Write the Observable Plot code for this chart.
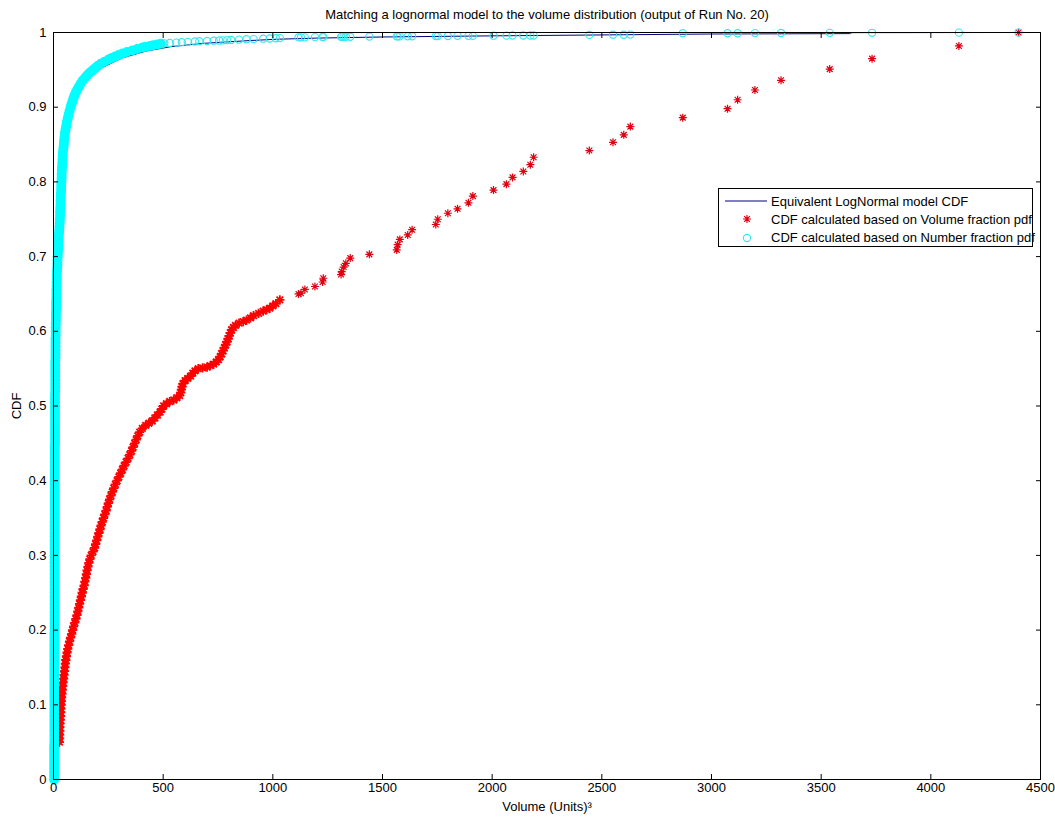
<!DOCTYPE html>
<html>
<head>
<meta charset="utf-8">
<script src="https://cdn.jsdelivr.net/npm/d3@7"></script>
<script src="https://cdn.jsdelivr.net/npm/@observablehq/plot@0.6"></script>
<style>
  html, body { margin: 0; padding: 0; background: #fff; }
  #wrap { position: relative; width: 1055px; height: 818px; }
  #legend { position: absolute; left: 718px; top: 188px; width: 315px; height: 59px;
            border: 1px solid #000; background: #fff; box-sizing: border-box;
            font-family: "Liberation Sans", Arial, sans-serif; font-size: 13px; color: #000; padding-top: 3px; }
  .row { display: flex; align-items: center; height: 18.3px; }
  .row svg { flex: none; }
  .row span { margin-left: 4px; white-space: nowrap; }
</style>
</head>
<body>
<div id="wrap"></div>
<script>
const title = "Matching a lognormal model to the volume distribution (output of Run No. 20)";
const xLabel = "Volume (Units)³";
const yLabel = "CDF";
const xTicks = [0, 500, 1000, 1500, 2000, 2500, 3000, 3500, 4000, 4500];
const yTicks = [0, 0.1, 0.2, 0.3, 0.4, 0.5, 0.6, 0.7, 0.8, 0.9, 1];
const yTickLabels = ["0", "0.1", "0.2", "0.3", "0.4", "0.5", "0.6", "0.7", "0.8", "0.9", "1"];
const legendLabels = [
  "Equivalent LogNormal model CDF",
  "CDF calculated based on Volume fraction pdf",
  "CDF calculated based on Number fraction pdf"
];

// Equivalent lognormal model CDF [volume, cdf]
const modelCdf = [
  [0,0],[3,0.3],[6,0.55],[10,0.63],[17,0.68],[29,0.745],[43,0.833],[62,0.874],[78,0.892],
  [116,0.92],[146,0.934],[215,0.952],[314,0.966],[420,0.975],[534,0.981],[685,0.9855],
  [900,0.9893],[1021,0.991],[1200,0.9925],[1500,0.994],[2000,0.9955],[2600,0.997],
  [3000,0.998],[3630,0.9985],[3640,0.9998],[4400,1.0]
];

// Volume-fraction CDF, dense part [volume, cdf]
const volumeCdfDense = [
  [27,0.05],[28,0.055],[28,0.06],[29,0.065],
  [29,0.07],[30,0.075],[31,0.08],[32,0.085],[33,0.09],[34,0.095],[35,0.10],[36,0.105],[37,0.11],[39,0.115],
  [40,0.12],[42,0.125],[44,0.13],[46,0.135],[48,0.14],[50,0.145],[52,0.15],[54,0.155],[56,0.16],[59,0.165],
  [62,0.17],[65,0.175],[69,0.18],[73,0.185],[78,0.19],[83,0.195],[87,0.20],[92,0.205],[97,0.21],[102,0.215],
  [107,0.22],[111,0.225],[115,0.23],[119,0.235],[123,0.24],[127,0.245],[131,0.25],[135,0.255],[140,0.26],[143,0.265],
  [147,0.27],[150,0.275],[153,0.28],[157,0.285],[161,0.29],[166,0.295],[172,0.30],[180,0.305],[187,0.31],[192,0.315],
  [197,0.32],[202,0.325],[207,0.33],[212,0.335],[217,0.34],[222,0.345],[228,0.35],[234,0.355],[240,0.36],[245,0.365],
  [250,0.37],[256,0.375],[262,0.38],[268,0.385],[275,0.39],[282,0.395],[290,0.40],[298,0.405],[306,0.41],[314,0.415],
  [322,0.42],[331,0.425],[340,0.43],[348,0.435],[356,0.44],[363,0.445],[370,0.45],[377,0.455],[384,0.46],[393,0.465],
  [405,0.47],[420,0.474],[435,0.477],[450,0.48],[462,0.484],[474,0.488],[486,0.492],[494,0.496],[502,0.50],[515,0.503],
  [530,0.506],[548,0.508],[562,0.511],[575,0.514],[580,0.518],[583,0.522],[586,0.526],[590,0.53],[600,0.534],[612,0.537],
  [625,0.54],[635,0.544],[645,0.547],[660,0.55],[680,0.551],[700,0.552],[715,0.554],[730,0.556],[742,0.559],[752,0.562],
  [760,0.566],[767,0.57],[773,0.574],[779,0.578],[785,0.582],[791,0.586],[796,0.59],[801,0.594],[806,0.598],[812,0.602],
  [820,0.605],[830,0.608],[846,0.611],[865,0.613],[880,0.615],[898,0.618],[912,0.621],[935,0.624],[956,0.627],[972,0.629],
  [986,0.631],[1000,0.634],[1014,0.637],[1032,0.642]
];

// Sparse volume bins (shared by both measured CDFs)
const volumeSparse = [1117,1128,1146,1192,1227,1230,1311,1314,1323,1333,1353,1440,1565,1569,1579,1615,1635,1743,1752,1798,
  1842,1892,1912,2006,2065,2093,2142,2174,2189,2443,2551,2600,2630,2869,3073,3119,3198,3317,3539,3732,4128,4400];
const volumeCdfSparse = [0.650,0.651,0.656,0.660,0.666,0.671,0.676,0.680,0.686,0.691,0.698,0.703,0.709,0.716,0.723,0.729,0.736,0.743,0.750,0.758,
  0.764,0.772,0.781,0.789,0.797,0.806,0.814,0.823,0.833,0.842,0.853,0.863,0.874,0.886,0.898,0.910,0.923,0.936,0.951,0.965,0.982,1.0];
const numberCdfSparse = [0.9934,0.9935,0.9935,0.9938,0.994,0.994,0.9942,0.9942,0.9942,0.9943,0.9943,0.9945,0.9948,0.9948,0.9948,0.995,0.995,0.9952,0.9952,0.9953,
  0.9955,0.9955,0.9955,0.9957,0.9958,0.996,0.996,0.996,0.996,0.9968,0.997,0.997,0.9972,0.999,0.999,0.999,0.9992,0.9993,0.9995,0.9996,0.9998,1.0];

// Number-fraction CDF, near-zero volumes [volume, cdf]
const numberCdfLow = [
  [3,0],[3,0.005],[3,0.01],[3,0.015],[3,0.02],[3,0.025],[3,0.03],[3,0.035],[3,0.04],[3,0.045],
  [4,0.05],[4,0.055],[4,0.06],[4,0.065],[4,0.07],[4,0.075],[4,0.08],[4,0.085],[4,0.09],[4,0.095],
  [4,0.1],[4,0.105],[4,0.11],[4,0.115],[4,0.12],[4,0.125],[4,0.13],[4,0.135],[4,0.14],[4,0.145],
  [4,0.15],[4,0.155],[4,0.16],[4,0.165],[4,0.17],[4,0.175],[4,0.18],[4,0.185],[4,0.19],[4,0.195],
  [5,0.2],[5,0.205],[5,0.21],[5,0.215],[5,0.22],[5,0.225],[5,0.23],[5,0.235],[5,0.24],[5,0.245],
  [5,0.25],[5,0.255],[5,0.26],[5,0.265],[5,0.27],[5,0.275],[5,0.28],[5,0.285],[5,0.29],[5,0.295],
  [5,0.3],[5,0.305],[5,0.31],[5,0.315],[5,0.32],[5,0.325],[5,0.33],[5,0.335],[5,0.34],[5,0.345],
  [6,0.35],[6,0.355],[6,0.36],[6,0.365],[6,0.37],[6,0.375],[6,0.38],[6,0.385],[6,0.39],[6,0.395],
  [6,0.4],[6,0.405],[6,0.41],[6,0.415],[6,0.42],[6,0.425],[6,0.43],[6,0.435],[6,0.44],[6,0.445],
  [7,0.45],[7,0.455],[7,0.46],[7,0.465],[7,0.47],[7,0.475],[7,0.48],[7,0.485],[7,0.49],[7,0.495],
  [7,0.5],[7,0.505],[7,0.51],[7,0.515],[8,0.52],[8,0.525],[8,0.53],[8,0.535],[8,0.54],[8,0.545],
  [8,0.55],[8,0.555],[8,0.56],[9,0.565],[9,0.57],[9,0.575],[9,0.58],[9,0.585],[9,0.59],[10,0.595],
  [10,0.6],[10,0.605],[10,0.61],[11,0.615],[11,0.62],[11,0.625],[12,0.63],[12,0.635],[12,0.64],[13,0.645],
  [13,0.65],[13,0.655],[14,0.66],[14,0.665],[15,0.67],[15,0.675],[16,0.68]
];

// Number-fraction CDF, bending part [volume, cdf]
const numberCdfCurve = [
  [17,0.685],[18,0.69],[18,0.695],[19,0.70],[20,0.705],[21,0.71],[22,0.715],[22,0.72],[23,0.725],[25,0.73],
  [26,0.735],[27,0.74],[28,0.745],[29,0.75],[30,0.755],[30,0.76],[31,0.765],[32,0.77],[32,0.775],[33,0.78],
  [34,0.785],[35,0.79],[35,0.795],[36,0.80],[37,0.805],[37,0.81],[38,0.815],[39,0.82],[40,0.825],[41,0.83],
  [42,0.835],[43,0.84],[45,0.845],[47,0.85],[48,0.855],[50,0.86],[52,0.865],[55,0.87],[58,0.875],[61,0.88],
  [65,0.885],[69,0.89],[73,0.895],[78,0.90],[82,0.904],[87,0.908],[91,0.912],[96,0.916],[102,0.92],[109,0.924],
  [117,0.928],[125,0.932],[134,0.936],[146,0.94],[155,0.943],[165,0.946],[177,0.949],[189,0.952],[201,0.955],[215,0.958],
  [233,0.961],[252,0.964],[266,0.966],[282,0.968],[298,0.970],[314,0.972],[335,0.974],[359,0.976],[382,0.978],[405,0.980],
  [420,0.981],[440,0.982],[455,0.983],[472,0.984],[489,0.985]
];
const numberCdfMid = [
  [505,0.9855],[530,0.986],[560,0.9865],[585,0.987],[612,0.9875],
  [645,0.988],[665,0.9883],[700,0.9887],[730,0.989],[755,0.9893],[772,0.9895],[792,0.9898],[810,0.99],[846,0.9905],[880,0.991],
  [912,0.9912],[956,0.9917],[986,0.992],[1014,0.9923],[1032,0.9925]
];

// Build tables for the library
const toRows = arr => arr.map(([v, c]) => ({v, c}));
const volumeDenseRows = toRows(volumeCdfDense);
const volumeSparseRows = volumeSparse.map((v, i) => ({v, c: volumeCdfSparse[i]}));
const numberDenseRows = toRows(numberCdfLow.concat(numberCdfCurve));
const numberSparseRows = toRows(numberCdfMid).concat(volumeSparse.map((v, i) => ({v, c: numberCdfSparse[i]})));
const modelRows = toRows(modelCdf);

// MATLAB-style "*" marker (plus + cross)
const star = {
  draw(ctx, size) {
    const r = Math.sqrt(size / Math.PI), d = r * 0.72;
    ctx.moveTo(-r, 0); ctx.lineTo(r, 0);
    ctx.moveTo(0, -r); ctx.lineTo(0, r);
    ctx.moveTo(-d, -d); ctx.lineTo(d, d);
    ctx.moveTo(-d, d); ctx.lineTo(d, -d);
  }
};

const font = "'Liberation Sans', Arial, sans-serif";
const chart = Plot.plot({
  width: 1055,
  height: 818,
  marginTop: 32,
  marginBottom: 39,
  marginLeft: 53,
  marginRight: 15,
  style: {fontFamily: font, fontSize: "13px", background: "#fff", color: "#000"},
  x: {domain: [0, 4500], axis: null},
  y: {domain: [0, 1], axis: null},
  marks: [
    Plot.line(modelRows, {x: "v", y: "c", stroke: "#000080", strokeWidth: 1}),
    Plot.dot(volumeDenseRows, {x: "v", y: "c", symbol: star, r: 4.6, stroke: "#ff0000", strokeWidth: 1.8}),
    Plot.dot(volumeSparseRows, {x: "v", y: "c", symbol: star, r: 4, stroke: "#e00010", strokeWidth: 1.2}),
    Plot.dot(numberDenseRows, {x: "v", y: "c", symbol: "circle", r: 4.2, stroke: "#00ffff", strokeWidth: 1.6, fill: "#00ffff"}),
    Plot.dot(numberSparseRows, {x: "v", y: "c", symbol: "circle", r: 3.6, stroke: "#33e8f0", strokeWidth: 1.1, fill: "none"}),
    Plot.frame({stroke: "#000"}),
    Plot.axisX({anchor: "bottom", ticks: xTicks, tickSize: -5, tickPadding: 8, tickFormat: d => String(d),
      label: xLabel, labelAnchor: "center", labelArrow: "none", labelOffset: 31}),
    Plot.axisX({anchor: "top", ticks: xTicks, tickSize: -5, tickFormat: () => "", label: null}),
    Plot.axisY({anchor: "left", ticks: yTicks, tickSize: -5, tickPadding: 12,
      tickFormat: d => yTickLabels[yTicks.indexOf(d)],
      label: yLabel, labelAnchor: "center", labelArrow: "none", labelOffset: 42}),
    Plot.axisY({anchor: "right", ticks: yTicks, tickSize: -5, tickFormat: () => "", label: null}),
    Plot.text([title], {text: d => d, frameAnchor: "top", lineAnchor: "middle", dy: -18, fontSize: 13})
  ]
});
const wrap = document.getElementById("wrap");
wrap.appendChild(chart);

// Legend
const legend = document.createElement("div");
legend.id = "legend";
const ns = "http://www.w3.org/2000/svg";
legendLabels.forEach((label, i) => {
  const row = document.createElement("div");
  row.className = "row";
  const svg = document.createElementNS(ns, "svg");
  svg.setAttribute("width", 48); svg.setAttribute("height", 18);
  const g = d3.select(svg);
  if (i === 0) {
    g.append("line").attr("x1", 6).attr("x2", 48).attr("y1", 9).attr("y2", 9).attr("stroke", "#000080");
  } else if (i === 1) {
    g.append("path").attr("transform", "translate(28,9)").attr("d", d3.symbol(star, 16 * Math.PI)())
      .attr("stroke", "#e00010").attr("stroke-width", 1.2).attr("fill", "none");
  } else {
    g.append("circle").attr("cx", 28).attr("cy", 9).attr("r", 3.6).attr("stroke", "#33e8f0")
      .attr("stroke-width", 1.1).attr("fill", "none");
  }
  row.appendChild(svg);
  const span = document.createElement("span");
  span.textContent = label;
  row.appendChild(span);
  legend.appendChild(row);
});
wrap.appendChild(legend);
</script>
</body>
</html>
